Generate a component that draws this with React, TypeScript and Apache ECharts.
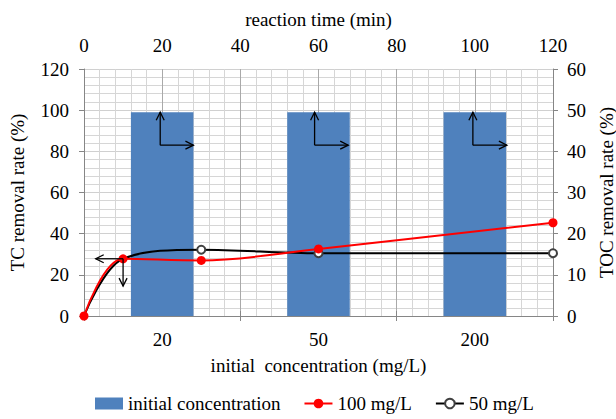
import React, { useEffect, useRef } from "react";
import * as echarts from "echarts";

// Bottom category axis: initial concentration (mg/L)
const concentrationCategories = ["20", "50", "200"];
const concentrationBars = [99, 99, 99];

// Removal-rate curves against reaction time (min), TC removal rate (%)
const rate100: [number, number][] = [
  [0, 0],
  [10, 27.8],
  [30, 27],
  [60, 32.6],
  [120, 45.3],
];
const rate50: [number, number][] = [
  [0, 0],
  [10, 27.8],
  [30, 32.2],
  [60, 30.5],
  [120, 30.5],
];

// Annotation arrows in (time, TC %) coordinates: [x1, y1, x2, y2]
const arrows: [number, number, number, number][] = [
  [19.5, 83, 19.5, 99],
  [19.5, 83, 28, 83],
  [59, 83, 59, 99],
  [59, 83, 67.6, 83],
  [99.5, 83, 99.5, 99],
  [99.5, 83, 108.2, 83],
  [10, 27.8, 3, 27.8],
  [10, 27.8, 10, 14.5],
];

const FONT = "Liberation Serif";
const TEXT = "#000";
const AXIS = "#868686";
const FS = 19;

export default function App() {
  const ref = useRef<HTMLDivElement>(null);

  useEffect(() => {
    if (!ref.current) return;
    const chart = echarts.init(ref.current, undefined, { renderer: "svg" });
    const labelStyle = { fontFamily: FONT, fontSize: FS, color: TEXT };

    chart.setOption({
      animation: false,
      textStyle: { fontFamily: FONT, color: TEXT, fontSize: FS },
      grid: {
        left: 84,
        right: 63,
        top: 69,
        bottom: 103,
        containLabel: false,
        outerBoundsMode: "none",
      },
      legend: {
        data: [
          { name: "initial concentration", icon: "rect" },
          { name: "100 mg/L" },
          { name: "50 mg/L" },
        ],
        left: 95,
        top: 394,
        padding: 0,
        itemWidth: 28,
        itemHeight: 12,
        itemGap: 23,
        textStyle: { fontFamily: FONT, fontSize: FS, color: TEXT },
      },
      xAxis: [
        {
          type: "category",
          position: "bottom",
          data: concentrationCategories,
          boundaryGap: true,
          axisLine: { show: true, lineStyle: { color: AXIS, width: 1 } },
          axisTick: { show: true, length: 5, alignWithLabel: false, lineStyle: { color: AXIS } },
          axisLabel: { ...labelStyle, margin: 14 },
          splitLine: { show: false },
          name: "initial  concentration (mg/L)",
          nameLocation: "middle",
          nameGap: 40,
          nameTextStyle: labelStyle,
        },
        {
          type: "value",
          position: "top",
          min: 0,
          max: 120,
          interval: 20,
          axisLine: { show: true, lineStyle: { color: AXIS, width: 1 } },
          axisTick: { show: true, length: 5, lineStyle: { color: AXIS } },
          axisLabel: { ...labelStyle, margin: 14 },
          minorTick: { show: false, splitNumber: 5 },
          splitLine: { show: true, lineStyle: { color: "#a9a9a9", width: 1 } },
          minorSplitLine: { show: true, lineStyle: { color: "#d6d6d6", width: 1 } },
          name: "reaction time (min)",
          nameLocation: "middle",
          nameGap: 40,
          nameTextStyle: labelStyle,
        },
      ],
      yAxis: [
        {
          type: "value",
          position: "left",
          min: 0,
          max: 120,
          interval: 20,
          axisLine: { show: true, lineStyle: { color: AXIS, width: 1 } },
          axisTick: { show: true, length: 5, lineStyle: { color: AXIS } },
          axisLabel: { ...labelStyle, margin: 15 },
          minorTick: { show: false, splitNumber: 5 },
          splitLine: { show: true, lineStyle: { color: "#d0d0d0", width: 1 } },
          minorSplitLine: { show: true, lineStyle: { color: "#d6d6d6", width: 1 } },
          name: "TC removal rate (%)",
          nameLocation: "middle",
          nameGap: 57,
          nameTextStyle: labelStyle,
        },
        {
          type: "value",
          position: "right",
          min: 0,
          max: 60,
          interval: 10,
          axisLine: { show: true, lineStyle: { color: AXIS, width: 1 } },
          axisTick: { show: true, length: 5, lineStyle: { color: AXIS } },
          axisLabel: { ...labelStyle, margin: 14 },
          splitLine: { show: false },
          name: "TOC removal rate (%)",
          nameLocation: "middle",
          nameGap: 42,
          nameTextStyle: labelStyle,
        },
      ],
      series: [
        {
          name: "initial concentration",
          type: "bar",
          xAxisIndex: 0,
          yAxisIndex: 0,
          data: concentrationBars,
          barWidth: "40%",
          itemStyle: { color: "#4f81bd" },
        },
        {
          name: "100 mg/L",
          type: "line",
          xAxisIndex: 1,
          yAxisIndex: 0,
          data: rate100,
          smooth: 0.35,
          clip: false,
          symbol: "circle",
          symbolSize: 9,
          itemStyle: { color: "#ff0000" },
          lineStyle: { color: "#ff0000", width: 2 },
          z: 3,
        },
        {
          name: "50 mg/L",
          type: "line",
          xAxisIndex: 1,
          yAxisIndex: 0,
          // the first two points coincide with the 100 mg/L markers, which stay on view
          data: rate50.map((p, i) => (i < 2 ? { value: p, symbol: "none" } : p)),
          smooth: 0.35,
          clip: false,
          symbol: "emptyCircle",
          symbolSize: 8,
          itemStyle: { color: "#404040", borderWidth: 1.2 },
          lineStyle: { color: "#000000", width: 2 },
          z: 2,
        },
        {
          type: "custom",
          xAxisIndex: 1,
          yAxisIndex: 0,
          data: arrows,
          encode: { x: [0, 2], y: [1, 3] },
          silent: true,
          z: 5,
          renderItem: (_params: any, api: any) => {
            const p1 = api.coord([api.value(0), api.value(1)]);
            const p2 = api.coord([api.value(2), api.value(3)]);
            const dx = p2[0] - p1[0];
            const dy = p2[1] - p1[1];
            const len = Math.hypot(dx, dy) || 1;
            const ux = dx / len;
            const uy = dy / len;
            const head = 8;
            const half = 4;
            const bx = p2[0] - ux * head;
            const by = p2[1] - uy * head;
            const px = -uy;
            const py = ux;
            return {
              type: "group",
              children: [
                {
                  type: "line",
                  shape: { x1: p1[0], y1: p1[1], x2: p2[0], y2: p2[1] },
                  style: { stroke: "#000", lineWidth: 1.3 },
                },
                {
                  type: "polyline",
                  shape: {
                    points: [
                      [bx + px * half, by + py * half],
                      [p2[0], p2[1]],
                      [bx - px * half, by - py * half],
                    ],
                  },
                  style: { stroke: "#000", lineWidth: 1.3, fill: null },
                },
              ],
            };
          },
        },
      ],
    });

    return () => chart.dispose();
  }, []);

  return (
    <div
      ref={ref}
      style={{ position: "fixed", left: 0, top: 0, width: 616, height: 419, background: "#fff" }}
    />
  );
}
